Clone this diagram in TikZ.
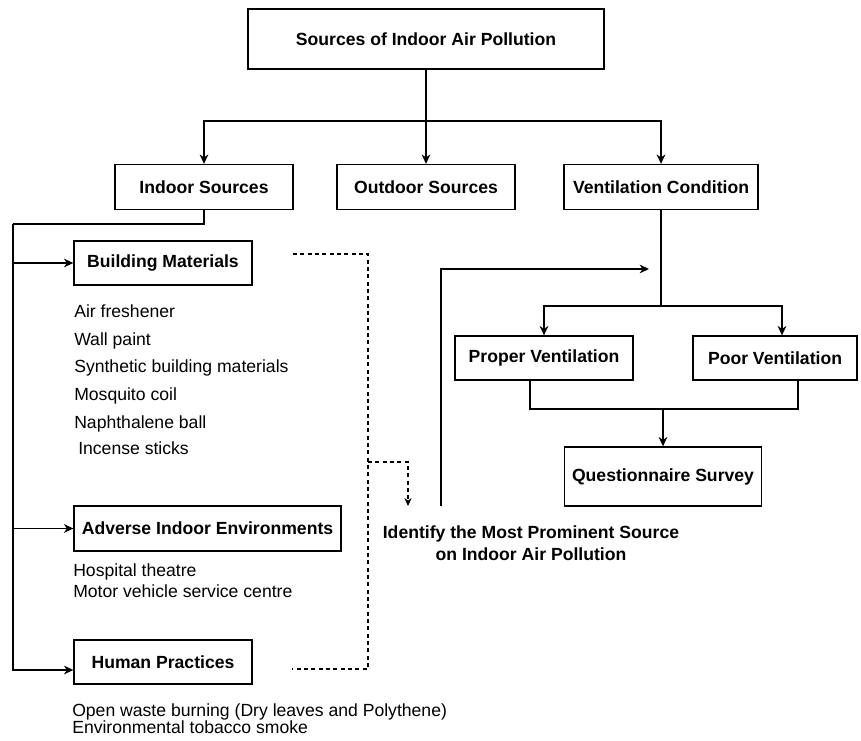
\documentclass[tikz,border=0pt]{standalone}
\usepackage{fontspec}
\setmainfont{Liberation Sans}
\usetikzlibrary{arrows.meta}

\begin{document}
\begin{tikzpicture}[x=0.75pt,y=-0.75pt]
\tikzstyle{box} = [rectangle, draw=black, line width=1pt, text centered, inner sep=0pt, font=\fontsize{13.2}{16}\selectfont\bfseries]
\tikzstyle{item} = [anchor=base west, inner sep=0pt, font=\fontsize{13.2}{16}\selectfont]
\tikzstyle{link} = [line width=1pt]
\tikzstyle{arrow} = [line width=1pt,->,>={Stealth[length=7pt,width=6.5pt,inset=2.2pt]}]
\tikzstyle{dashline} = [line width=0.8pt, dash pattern=on 3pt off 2.5pt]
\tikzstyle{dasharrow} = [dashline,->,>={Stealth[length=6pt,width=5.5pt,inset=2pt]}]
\useasboundingbox (0,0) rectangle (861,741);

\node (src) [box, minimum width=267pt, minimum height=45pt] at (426,39) {Sources of Indoor Air Pollution};
\node (indoor) [box, minimum width=133.5pt, minimum height=33.75pt] at (204,187) {Indoor Sources};
\node (outdoor) [box, minimum width=133.5pt, minimum height=33.75pt] at (426,187) {Outdoor Sources};
\node (vent) [box, minimum width=145.5pt, minimum height=33.75pt] at (661,187) {Ventilation Condition};

\node (build) [box, minimum width=133.5pt, minimum height=33pt] at (163,263) {Building Materials};
\node (adverse) [box, minimum width=200.25pt, minimum height=33.75pt] at (207.5,528.5) {Adverse Indoor Environments};
\node (human) [box, minimum width=133.5pt, minimum height=33pt] at (163,662) {Human Practices};

\node (proper) [box, minimum width=133.5pt, minimum height=33pt] at (544,358) {Proper Ventilation};
\node (poor) [box, minimum width=123pt, minimum height=33pt] at (775,358) {Poor Ventilation};
\node (quest) [box, minimum width=147.75pt, minimum height=44.25pt] at (663,476.5) {Questionnaire Survey};

\node (ident) [align=center, inner sep=0pt, font=\fontsize{13.2}{16.5}\selectfont\bfseries] at (531,543.5) {Identify the Most Prominent Source\\on Indoor Air Pollution};

% building materials
\node (air) [item] at (74,318) {Air freshener};
\node (wall) [item] at (74,346) {Wall paint};
\node (synth) [item] at (74,373) {Synthetic building materials};
\node (mosq) [item] at (74,401) {Mosquito coil};
\node (naph) [item] at (74,429) {Naphthalene ball};
\node (incense) [item] at (78,455) {Incense sticks};
% adverse environments
\node (hosp) [item] at (73,576) {Hospital theatre};
\node (motor) [item] at (73,598) {Motor vehicle service centre};
% human practices
\node (waste) [item] at (72,716) {Open waste burning (Dry leaves and Polythene)};
\node (tobacco) [item] at (72,733) {Environmental tobacco smoke};

\coordinate (split) at (426,121);
\draw [link] (src) -- (split);
\draw [arrow] (split) -| (indoor.north);
\draw [arrow] (split) -- (outdoor.north);
\draw [arrow] (split) -| (vent.north);

\coordinate (rail) at (13,224);
\draw [link] (indoor.south) |- (rail);
\draw [arrow] (rail) |- ([yshift=-6pt]human.west);
\draw [arrow] (rail |- build.west) -- (build.west);
\draw [arrow] (rail |- adverse.west) -- (adverse.west);

\coordinate (bm-tail) at (293,254);
\coordinate (hp-tail) at (292,669);
\coordinate (joint) at (368,462);
\coordinate (dash-tip) at (408,506);
\draw [dashline] (bm-tail) -| (joint) |- (hp-tail);
\draw [dasharrow] (joint) -| (dash-tip);

\coordinate (fb-start) at (441,506);
\coordinate (fb-tip) at (649,269);
\draw [arrow] (fb-start) |- (fb-tip);

\coordinate (vsplit) at (661,306);
\draw [link] (vent) -- (vsplit);
\draw [arrow] (vsplit) -| (proper.north);
\draw [arrow] (vsplit) -| ([xshift=5.25pt]poor.north);

\coordinate (merge) at (663,409);
\draw [link] ([xshift=-10.5pt]proper.south) |- (merge);
\draw [link] ([xshift=17.25pt]poor.south) |- (merge);
\draw [arrow] (merge) -- (quest);
\end{tikzpicture}
\end{document}
